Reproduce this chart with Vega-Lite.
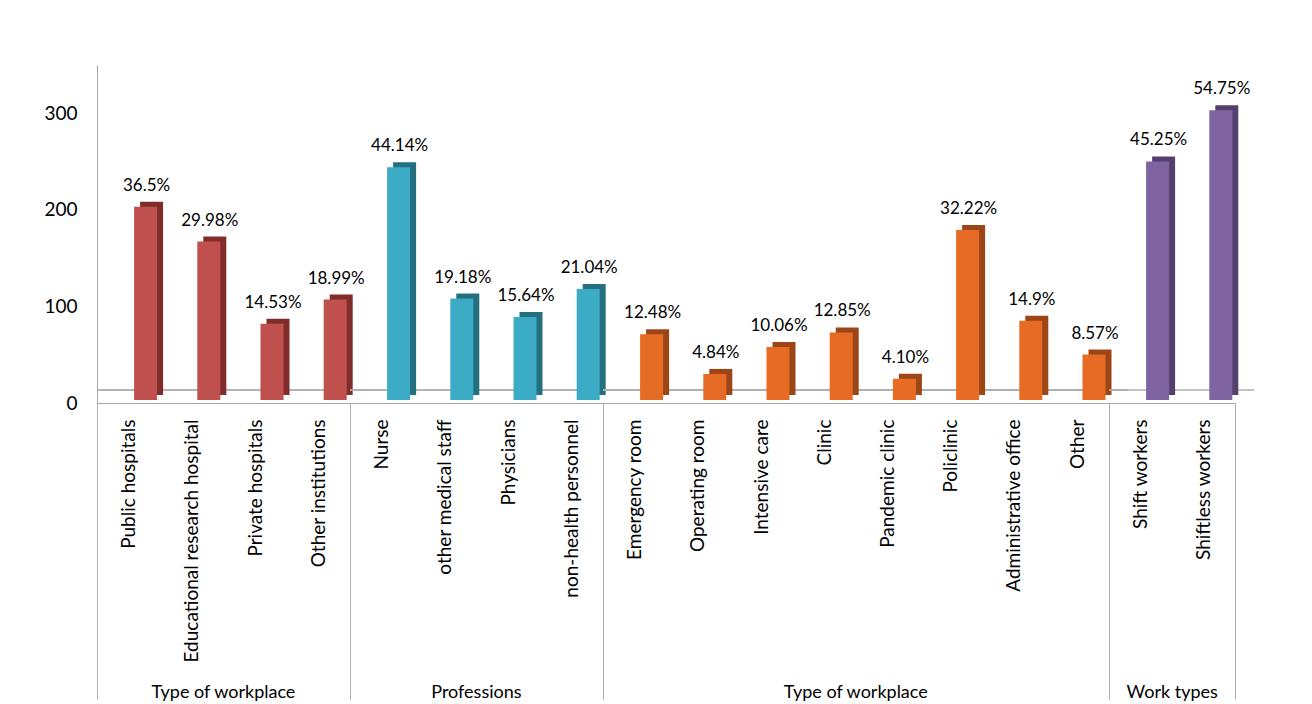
{
  "$schema": "https://vega.github.io/schema/vega-lite/v6.json",
  "padding": {"left": 5, "top": 65, "right": 5, "bottom": 0},
  "background": "white",
  "bounds": "flush",
  "data": {
    "values": [
      {"grp": "1 Type of workplace", "ord": 1, "cat": "Public hospitals", "n": 200, "pct": "36.5%"},
      {"grp": "1 Type of workplace", "ord": 2, "cat": "Educational research hospital", "n": 164, "pct": "29.98%"},
      {"grp": "1 Type of workplace", "ord": 3, "cat": "Private hospitals", "n": 79, "pct": "14.53%"},
      {"grp": "1 Type of workplace", "ord": 4, "cat": "Other institutions", "n": 104, "pct": "18.99%"},
      {"grp": "2 Professions", "ord": 5, "cat": "Nurse", "n": 241, "pct": "44.14%"},
      {"grp": "2 Professions", "ord": 6, "cat": "other medical staff", "n": 105, "pct": "19.18%"},
      {"grp": "2 Professions", "ord": 7, "cat": "Physicians", "n": 86, "pct": "15.64%"},
      {"grp": "2 Professions", "ord": 8, "cat": "non-health personnel", "n": 115, "pct": "21.04%"},
      {"grp": "3 Type of workplace", "ord": 9, "cat": "Emergency room", "n": 68, "pct": "12.48%"},
      {"grp": "3 Type of workplace", "ord": 10, "cat": "Operating room", "n": 27, "pct": "4.84%"},
      {"grp": "3 Type of workplace", "ord": 11, "cat": "Intensive care", "n": 55, "pct": "10.06%"},
      {"grp": "3 Type of workplace", "ord": 12, "cat": "Clinic", "n": 70, "pct": "12.85%"},
      {"grp": "3 Type of workplace", "ord": 13, "cat": "Pandemic clinic", "n": 22, "pct": "4.10%"},
      {"grp": "3 Type of workplace", "ord": 14, "cat": "Policlinic", "n": 176, "pct": "32.22%"},
      {"grp": "3 Type of workplace", "ord": 15, "cat": "Administrative office", "n": 82, "pct": "14.9%"},
      {"grp": "3 Type of workplace", "ord": 16, "cat": "Other", "n": 47, "pct": "8.57%"},
      {"grp": "4 Work types", "ord": 17, "cat": "Shift workers", "n": 247, "pct": "45.25%"},
      {"grp": "4 Work types", "ord": 18, "cat": "Shiftless workers", "n": 300, "pct": "54.75%"}
    ]
  },
  "facet": {
    "column": {
      "field": "grp",
      "type": "nominal",
      "header": {
        "title": null,
        "labelOrient": "bottom",
        "labelPadding": 281,
        "labelFont": "Lato",
        "labelFontSize": 18,
        "labelColor": "#000000",
        "labelExpr": "substring(datum.value, 2)"
      }
    }
  },
  "spacing": 0,
  "resolve": {"scale": {"x": "independent"}},
  "spec": {
    "width": {"step": 63.2},
    "height": 338,
    "resolve": {"scale": {"color": "independent"}},
    "layer": [
      {
        "mark": {"type": "rule", "yOffset": -13, "xOffset": 19, "color": "#b0b0b0", "strokeWidth": 1},
        "encoding": {
          "y": {"datum": 0, "type": "quantitative", "scale": {"domain": [0, 350], "nice": false}}
        }
      },
      {
        "mark": {"type": "bar", "size": 23, "xOffset": 23, "yOffset": -8},
        "encoding": {
          "x": {
            "field": "cat", "type": "nominal", "sort": {"field": "ord", "op": "min"},
            "scale": {"paddingInner": 0, "paddingOuter": 0},
            "axis": {
              "title": null, "labelAngle": -90, "labelFont": "Lato", "labelFontSize": 19,
              "labelColor": "#000000", "tickBand": "extent", "tickSize": 296,
              "tickColor": {"condition": {"test": "datum.index < 0 || datum.index == 1", "value": "#b0b0b0"}, "value": "transparent"},
              "labelPadding": -280, "domainColor": "#a6a6a6", "labelLimit": 400, "labelOverlap": false
            }
          },
          "y": {
            "field": "n", "type": "quantitative",
            "scale": {"domain": [0, 350], "nice": false},
            "axis": {
              "values": [0, 100, 200, 300], "title": null, "ticks": false, "grid": false,
              "labelPadding": 20, "labelFontSize": 19, "labelFont": "Lato", "labelColor": "#000000",
              "domainColor": "#a6a6a6", "minExtent": 92, "maxExtent": 92
            }
          },
          "color": {
            "field": "grp", "type": "nominal", "legend": null,
            "scale": {"domain": ["1 Type of workplace", "2 Professions", "3 Type of workplace", "4 Work types"], "range": ["#7f2c2a", "#24707f", "#9c4517", "#54406e"]}
          }
        }
      },
      {
        "mark": {"type": "bar", "size": 23, "xOffset": 17, "yOffset": -3},
        "encoding": {
          "x": {"field": "cat", "type": "nominal", "sort": {"field": "ord", "op": "min"}},
          "y": {"field": "n", "type": "quantitative", "scale": {"domain": [0, 350], "nice": false}},
          "color": {
            "field": "grp", "type": "nominal", "legend": null,
            "scale": {"domain": ["1 Type of workplace", "2 Professions", "3 Type of workplace", "4 Work types"], "range": ["#c0504d", "#3cacc6", "#e66b24", "#8064a2"]}
          }
        }
      },
      {
        "mark": {"type": "text", "xOffset": 18, "dy": -15, "baseline": "bottom", "font": "Lato", "fontSize": 17, "color": "#000000"},
        "encoding": {
          "x": {"field": "cat", "type": "nominal", "sort": {"field": "ord", "op": "min"}},
          "y": {"field": "n", "type": "quantitative", "scale": {"domain": [0, 350], "nice": false}},
          "text": {"field": "pct", "type": "nominal"}
        }
      }
    ]
  },
  "config": {
    "view": {"stroke": null},
    "axis": {"domainWidth": 1}
  }
}
